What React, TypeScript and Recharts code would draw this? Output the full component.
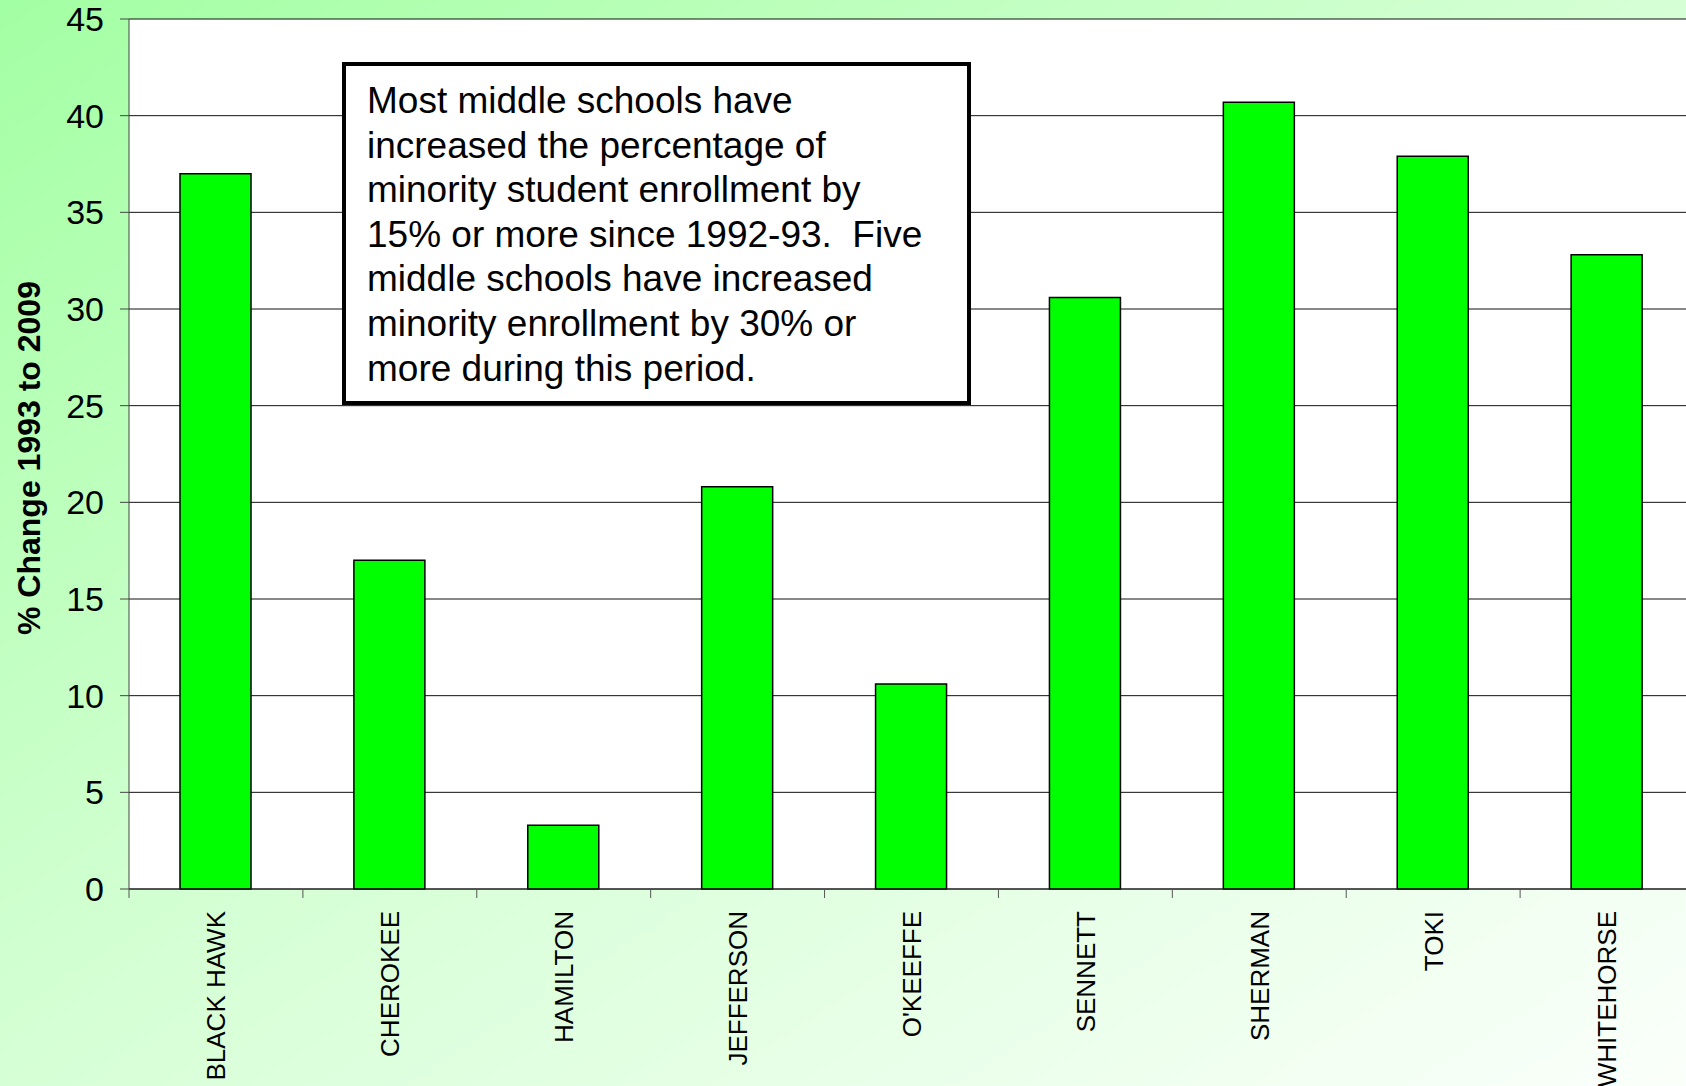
import React from 'react';
import { BarChart, Bar, XAxis, YAxis, CartesianGrid } from 'recharts';

const schools = [
  'BLACK HAWK',
  'CHEROKEE',
  'HAMILTON',
  'JEFFERSON',
  "O'KEEFFE",
  'SENNETT',
  'SHERMAN',
  'TOKI',
  'WHITEHORSE',
];
const pctChange = [37.0, 17.0, 3.3, 20.8, 10.6, 30.6, 40.7, 37.9, 32.8];
const yTicks = [0, 5, 10, 15, 20, 25, 30, 35, 40, 45];

const noteLines = [
  'Most middle schools have',
  'increased the percentage of',
  'minority student enrollment by',
  '15% or more since 1992-93.  Five',
  'middle schools have increased',
  'minority enrollment by 30% or',
  'more during this period.',
];

const data = schools.map((name, i) => ({ name, value: pctChange[i] }));

const font = 'Arial, "Liberation Sans", Helvetica, sans-serif';

// category label plus the tick marks on the band edges (Excel style)
function SchoolTick(props: any) {
  const { x, y, payload, index } = props;
  const half = payload.offset || 0;
  const ty = y + 22;
  const isLast = index === schools.length - 1;
  return (
    <g>
      <line x1={x - half} x2={x - half} y1={y} y2={y + 9} stroke="#555" />
      {isLast && <line x1={x + half} x2={x + half} y1={y} y2={y + 9} stroke="#555" />}
      <text
        x={x}
        y={ty}
        transform={`rotate(-90, ${x}, ${ty})`}
        textAnchor="end"
        dy="0.36em"
        fontSize={26}
        fontFamily={font}
        fill="#000"
      >
        {payload.value}
      </text>
    </g>
  );
}

export default function App() {
  return (
    <div
      style={{
        position: 'absolute',
        left: 0,
        top: 0,
        width: 1686,
        height: 1086,
        overflow: 'hidden',
        background: 'linear-gradient(to bottom right, #a3ffa3 0%, #d6ffd6 50%, #fbfffb 100%)',
        fontFamily: font,
      }}
    >
      <BarChart
        width={1700}
        height={1086}
        data={data}
        margin={{ top: 19, right: 6, bottom: 0, left: 0 }}
      >
        <CartesianGrid vertical={false} stroke="#111" fill="#fff" fillOpacity={1} />
        <XAxis
          dataKey="name"
          height={197}
          interval={0}
          tickLine={false}
          tickSize={0}
          tickMargin={0}
          axisLine={{ stroke: '#222' }}
          tick={<SchoolTick />}
        />
        <YAxis
          domain={[0, 45]}
          ticks={yTicks}
          interval={0}
          width={129}
          tickSize={9}
          tickMargin={16}
          axisLine={{ stroke: '#444' }}
          tickLine={{ stroke: '#444' }}
          tick={{ fontSize: 34, fill: '#000', fontFamily: font }}
        />
        <Bar
          dataKey="value"
          fill="#00ff00"
          stroke="#000"
          strokeWidth={1.5}
          barSize={71}
          isAnimationActive={false}
        />
      </BarChart>

      <div
        style={{
          position: 'absolute',
          left: 29,
          top: 458,
          transform: 'translate(-50%, -50%) rotate(-90deg)',
          whiteSpace: 'nowrap',
          fontSize: 32,
          fontWeight: 'bold',
          color: '#000',
        }}
      >
        % Change 1993 to 2009
      </div>

      <div
        style={{
          position: 'absolute',
          left: 342,
          top: 62,
          width: 629,
          height: 343,
          boxSizing: 'border-box',
          border: '4.5px solid #000',
          background: '#fff',
          padding: '13px 0 0 21px',
          fontSize: 37,
          lineHeight: '44.6px',
          whiteSpace: 'pre',
          color: '#000',
        }}
      >
        {noteLines.join('\n')}
      </div>
    </div>
  );
}
